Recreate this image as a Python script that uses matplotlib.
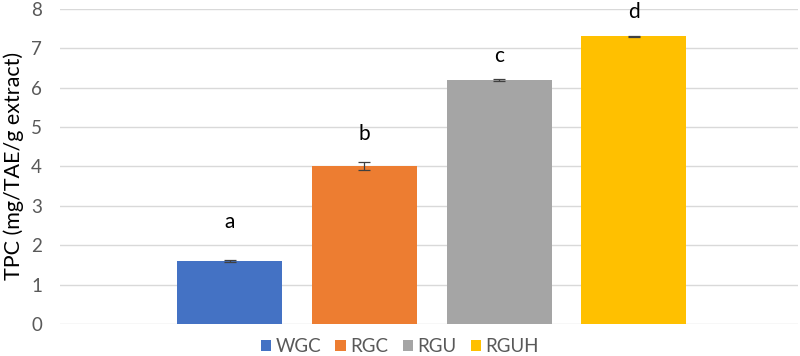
import matplotlib.pyplot as plt
import numpy as np

plt.rcParams['font.family'] = ['Lato', 'DejaVu Sans']

samples = ["WGC", "RGC", "RGU", "RGUH"]
tpc = [1.6, 4.0, 6.2, 7.3]
err = [0.02, 0.1, 0.02, 0.02]
letters = ["a", "b", "c", "d"]
letter_y = [2.44, 4.67, 6.65, 7.77]
colors = ["#4472C4", "#ED7D31", "#A5A5A5", "#FFC000"]

fig = plt.figure(figsize=(8, 3.56), dpi=100)
ax = fig.add_axes([0.075, 0.09, 0.9225, 0.885])

x = np.arange(len(samples))
bars = ax.bar(x, tpc, width=0.78, color=colors, zorder=2)
ax.errorbar(x, tpc, yerr=err, fmt='none', ecolor='#404040', elinewidth=0.9,
            capsize=4, capthick=0.9, zorder=3)

for xi, ly, lab in zip(x, letter_y, letters):
    ax.text(xi, ly, lab, ha='center', va='baseline', fontsize=15, color='black')

ax.set_ylim(0, 8)
ax.set_xlim(-1.26, 4.22)
ax.set_yticks(range(0, 9))
ax.set_xticks([])
ax.yaxis.grid(True, color='#D9D9D9', linewidth=1.0, zorder=0)
ax.set_axisbelow(True)
for s in ax.spines.values():
    s.set_visible(False)
ax.tick_params(axis='y', length=0, labelsize=13.5, labelcolor='#595959', pad=13)
ax.set_ylabel('TPC (mg/TAE/g extract)', fontsize=15.5, color='black', labelpad=5)

fig.legend(bars, samples, loc='lower center', bbox_to_anchor=(0.5, -0.045), ncol=4,
           frameon=False, fontsize=13.5, handlelength=0.55, handleheight=0.55,
           handletextpad=0.25, columnspacing=0.75, labelcolor='#595959')

fig.savefig('out.png', dpi=100)
